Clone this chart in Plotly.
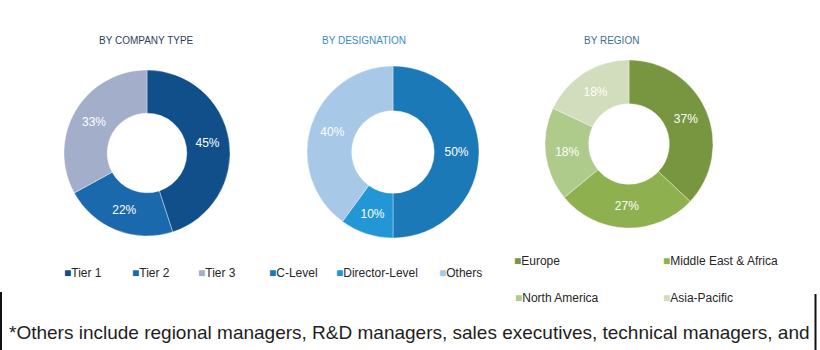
import plotly.graph_objects as go

# ---- data ----
company_labels = ["Tier 1", "Tier 2", "Tier 3"]
company_values = [45, 22, 33]
company_colors = ["#114f8a", "#1b69ad", "#a3aecb"]

designation_labels = ["C-Level", "Director-Level", "Others"]
designation_values = [50, 10, 40]
designation_colors = ["#1b79b7", "#2397d6", "#a8c8e7"]

region_labels = ["Europe", "Middle East & Africa", "North America", "Asia-Pacific"]
region_values = [37, 27, 18, 18]
region_colors = ["#77963f", "#8eb04f", "#aecb8c", "#d1ddbc"]

titles = ["BY COMPANY TYPE", "BY DESIGNATION", "BY REGION"]
title_colors = ["#2b3f5c", "#3b8bcb", "#3f6f93"]
footnote = "*Others include regional managers, R&D managers, sales executives, technical managers, and"

W, H = 820, 350

def px_dom(cx, cy, r):
    return dict(x=[(cx - r) / W, (cx + r) / W], y=[(H - cy - r) / H, (H - cy + r) / H])

fig = go.Figure()

pies = [
    (company_labels, company_values, company_colors, (147, 153, 83)),
    (designation_labels, designation_values, designation_colors, (393, 152, 86)),
    (region_labels, region_values, region_colors, (629, 144, 84)),
]
for labels, values, colors, (cx, cy, r) in pies:
    fig.add_trace(go.Pie(
        labels=labels, values=values, hole=0.48, sort=False,
        direction="clockwise", rotation=0,
        marker=dict(colors=colors, line=dict(color="rgba(255,255,255,0.6)", width=0.6)),
        texttemplate="%{value}%", textposition="inside",
        insidetextorientation="horizontal",
        textfont=dict(family="Liberation Sans", size=12, color="white"),
        domain=px_dom(cx, cy, r), showlegend=False, hoverinfo="label+percent",
    ))

annotations = []
# titles
title_pos = [(97, 41), (320, 41), (582, 41)]
for t, c, (x, y) in zip(titles, title_colors, title_pos):
    annotations.append(dict(text=t, x=x / W, y=1 - y / H, xref="paper", yref="paper",
                            xanchor="left", yanchor="middle", showarrow=False,
                            font=dict(family="Liberation Sans", size=10, color=c)))

# legends (built from the label / colour lists)
legend_items = []
row1_x = [62, 130, 196, 267, 334, 437]
for lab, col, x in zip(company_labels + designation_labels,
                       company_colors + designation_colors, row1_x):
    legend_items.append((lab, col, x, 273))
reg_pos = [(512, 261), (661, 261), (513, 298), (661, 298)]
for lab, col, (x, y) in zip(region_labels, region_colors, reg_pos):
    legend_items.append((lab, col, x, y))
for lab, col, x, y in legend_items:
    annotations.append(dict(
        text=f"<span style='color:{col}'>■</span>{lab}",
        x=x / W, y=1 - y / H, xref="paper", yref="paper",
        xanchor="left", yanchor="middle", showarrow=False,
        font=dict(family="Liberation Sans", size=12, color="#262626")))

annotations.append(dict(text=footnote, x=409 / W, y=1 - 332 / H, xref="paper", yref="paper",
                        xanchor="center", yanchor="middle", showarrow=False,
                        font=dict(family="Liberation Sans", size=19, color="#1e1e1e")))

shapes = [
    dict(type="line", xref="paper", yref="paper", x0=1 / W, x1=1 / W, y0=0, y1=1 - 292 / H,
         line=dict(color="#111", width=2)),
    dict(type="line", xref="paper", yref="paper", x0=815.5 / W, x1=815.5 / W, y0=0, y1=1 - 294 / H,
         line=dict(color="#111", width=2)),
]

fig.update_layout(width=W, height=H, margin=dict(l=0, r=0, t=0, b=0),
                  paper_bgcolor="white", plot_bgcolor="white",
                  annotations=annotations, shapes=shapes, showlegend=False)

fig.write_html("out.html")
